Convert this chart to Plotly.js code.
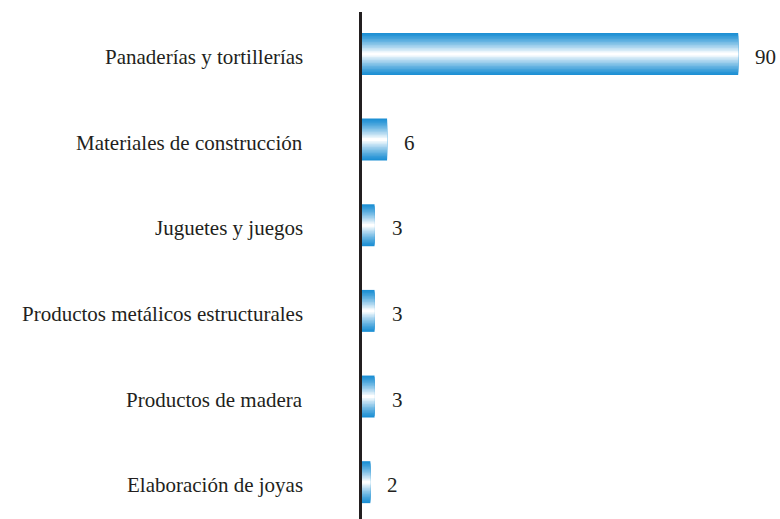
<!DOCTYPE html>
<html>
<head>
<meta charset="utf-8">
<script src="https://cdn.plot.ly/plotly-3.0.1.min.js"></script>
<style>html,body{margin:0;padding:0;background:#fff;}#chart{width:780px;height:519px;}</style>
</head>
<body>
<div id="chart"></div>
<script>
const categories = [
  "Panaderías y tortillerías",
  "Materiales de construcción",
  "Juguetes y juegos",
  "Productos metálicos estructurales",
  "Productos de madera",
  "Elaboración de joyas"
];
const values = [90, 6, 3, 3, 3, 2];
const valueLabels = ["90", "6", "3", "3", "3", "2"];

const edge = [30, 144, 212];
const mid = [255, 255, 255];
const steps = 14;
const barWidth = 0.49;
const traces = [];
for (let i = 0; i < steps; i++) {
  const t = i / (steps - 1);
  const c = edge.map((e, k) => Math.round(e + (mid[k] - e) * Math.pow(t, 1.2)));
  const w = barWidth * (1 - i / steps);
  traces.push({
    type: 'bar',
    orientation: 'h',
    x: values,
    y: categories,
    width: categories.map(() => w),
    marker: {color: 'rgb(' + c.join(',') + ')', line: {width: 0}},
    hoverinfo: 'skip',
    showlegend: false
  });
}

const serif = 'Liberation Serif, Times New Roman, serif';
const valueAnnotations = categories.map((cat, i) => ({
  x: values[i], y: cat, xref: 'x', yref: 'y',
  text: valueLabels[i], showarrow: false,
  xanchor: 'left', yanchor: 'middle', xshift: 15, yshift: -3,
  font: {family: serif, size: 21, color: '#231f20'}
}));
const categoryAnnotations = categories.map((cat) => ({
  x: 0, y: cat, xref: 'x', yref: 'y',
  text: cat, showarrow: false,
  xanchor: 'right', yanchor: 'middle', xshift: -57, yshift: -3,
  font: {family: serif, size: 21, color: '#231f20'}
}));

const layout = {
  width: 780, height: 519,
  margin: {l: 362, r: 0, t: 12, b: 0},
  paper_bgcolor: '#fff', plot_bgcolor: '#fff',
  barmode: 'overlay',
  showlegend: false,
  hovermode: false,
  xaxis: {range: [0, 100], showgrid: false, zeroline: false, showline: false, showticklabels: false, ticks: ''},
  yaxis: {
    type: 'category', categoryarray: categories, categoryorder: 'array',
    range: [5.43, -0.49],
    showgrid: false, zeroline: false,
    showline: true, linecolor: '#231f20', linewidth: 3,
    ticks: '', showticklabels: false
  },
  annotations: valueAnnotations.concat(categoryAnnotations),
  font: {family: serif, color: '#231f20'}
};

Plotly.newPlot('chart', traces, layout, {displayModeBar: false, staticPlot: true});
</script>
</body>
</html>
